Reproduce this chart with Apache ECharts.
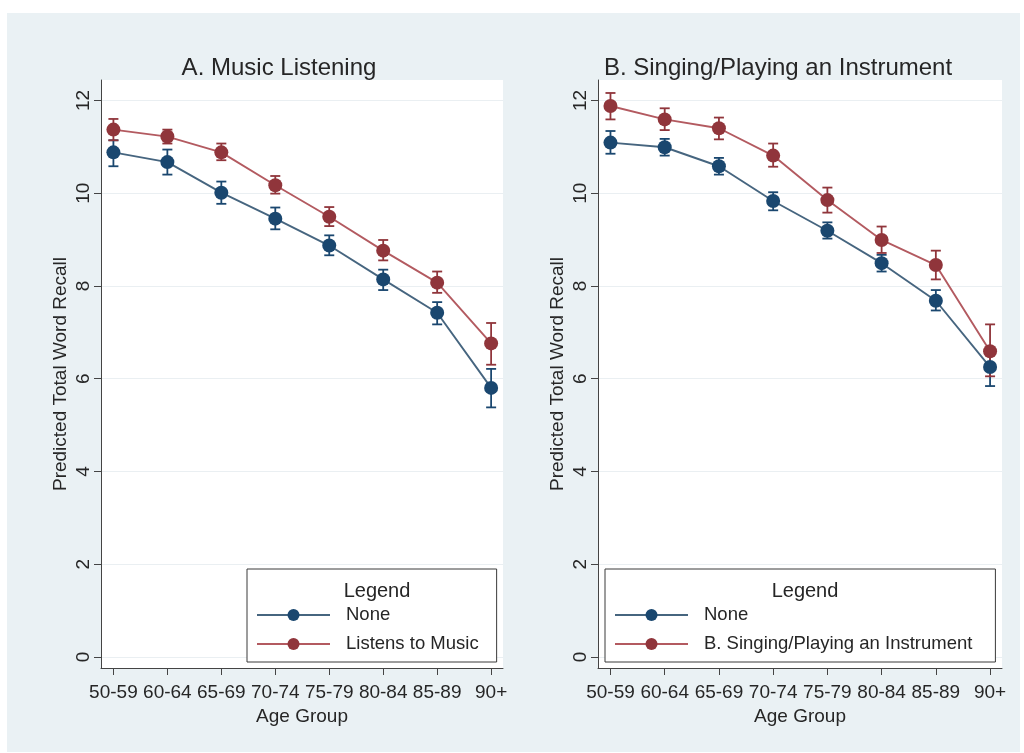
<!DOCTYPE html>
<html>
<head>
<meta charset="utf-8">
<script src="https://cdn.jsdelivr.net/npm/echarts@6/dist/echarts.min.js"></script>
<style>
html,body{margin:0;padding:0;background:#ffffff;}
#bg{position:absolute;left:7px;top:13px;width:1013px;height:739px;background:#eaf1f4;}
#chart{position:absolute;left:0;top:0;width:1024px;height:753px;}
</style>
</head>
<body>
<div id="bg"></div>
<div id="chart"></div>
<script>
// ---- data ----
const ageGroups = ['50-59','60-64','65-69','70-74','75-79','80-84','85-89','90+'];
const yTicks = [0, 2, 4, 6, 8, 10, 12];
const xTicks = [0, 1, 2, 3, 4, 5, 6, 7];

// Panel A: Music Listening
const aNone    = [10.88, 10.67, 10.01, 9.45, 8.87, 8.14, 7.42, 5.80];
const aNoneLo  = [10.58, 10.40, 9.77, 9.22, 8.66, 7.91, 7.17, 5.38];
const aNoneHi  = [11.14, 10.94, 10.25, 9.69, 9.09, 8.35, 7.65, 6.21];
const aListen   = [11.37, 11.22, 10.88, 10.17, 9.49, 8.76, 8.07, 6.76];
const aListenLo = [11.14, 11.07, 10.71, 9.99, 9.29, 8.55, 7.85, 6.30];
const aListenHi = [11.60, 11.37, 11.07, 10.37, 9.70, 8.99, 8.31, 7.20];

// Panel B: Singing/Playing an Instrument
const bNone    = [11.09, 10.99, 10.58, 9.83, 9.19, 8.49, 7.68, 6.25];
const bNoneLo  = [10.85, 10.81, 10.40, 9.63, 9.02, 8.31, 7.47, 5.84];
const bNoneHi  = [11.34, 11.17, 10.76, 10.02, 9.37, 8.67, 7.91, 6.64];
const bSing    = [11.88, 11.59, 11.40, 10.81, 9.85, 8.99, 8.45, 6.59];
const bSingLo  = [11.59, 11.36, 11.16, 10.57, 9.58, 8.71, 8.14, 6.05];
const bSingHi  = [12.16, 11.83, 11.63, 11.07, 10.12, 9.28, 8.76, 7.17];

const seriesNames = ['None', 'Listens to Music', 'B. Singing/Playing an Instrument'];
const panelTitles = ['A. Music Listening', 'B. Singing/Playing an Instrument'];

// ---- styles ----
const FONT = "'Liberation Sans', Arial, sans-serif";
const NAVY = '#1a476f', NAVY_LINE = '#46657f';
const MAROON = '#90353b', MAROON_LINE = '#b35a60';
const TXT = '#262626';

function pts(vals){ return vals.map((v,i)=>[i, v]); }
function ci(lo, hi){ return lo.map((v,i)=>[i, v, hi[i]]); }

function errRender(color){
  return function(params, api){
    const x = api.value(0);
    const pLo = api.coord([x, api.value(1)]);
    const pHi = api.coord([x, api.value(2)]);
    const hw = 5;
    const st = {stroke: color, lineWidth: 1.8};
    return {type:'group', children:[
      {type:'line', shape:{x1:pHi[0], y1:pHi[1], x2:pLo[0], y2:pLo[1]}, style:st},
      {type:'line', shape:{x1:pHi[0]-hw, y1:pHi[1], x2:pHi[0]+hw, y2:pHi[1]}, style:st},
      {type:'line', shape:{x1:pLo[0]-hw, y1:pLo[1], x2:pLo[0]+hw, y2:pLo[1]}, style:st}
    ]};
  };
}

const grids = [
  {left:101, top:80, width:402, height:588, show:true, backgroundColor:'#ffffff', borderWidth:0},
  {left:598, top:80, width:404, height:588, show:true, backgroundColor:'#ffffff', borderWidth:0}
];

function xAxis(gi){
  return {
    type:'value', gridIndex:gi, min:-0.23, max:7.22,
    name:'Age Group', nameLocation:'middle', nameGap:35,
    nameTextStyle:{fontFamily:FONT, fontSize:19, color:TXT},
    axisLine:{show:true, onZero:false, lineStyle:{color:'#444', width:1}},
    axisTick:{show:true, length:7, customValues:xTicks, lineStyle:{color:'#444'}},
    axisLabel:{customValues:xTicks, margin:15, fontFamily:FONT, fontSize:19, color:TXT,
      formatter:(v)=>ageGroups[Math.round(v)]},
    splitLine:{show:false}
  };
}
function yAxis(gi){
  return {
    type:'value', gridIndex:gi, min:-0.24, max:12.44,
    name:'Predicted Total Word Recall', nameLocation:'middle', nameGap:31,
    nameTextStyle:{fontFamily:FONT, fontSize:19, color:TXT},
    axisLine:{show:true, onZero:false, lineStyle:{color:'#444', width:1}},
    axisTick:{show:true, length:7, customValues:yTicks, lineStyle:{color:'#444'}},
    axisLabel:{customValues:yTicks, rotate:90, margin:8, fontFamily:FONT, fontSize:19, color:TXT},
    splitLine:{show:true, lineStyle:{color:'#eaeff2', width:1}}
  };
}

function lineSeries(name, gi, vals, mColor, lColor){
  return {
    type:'line', name:name, xAxisIndex:gi, yAxisIndex:gi, data:pts(vals),
    symbol:'circle', symbolSize:14, z:3,
    itemStyle:{color:mColor},
    lineStyle:{color:lColor, width:1.9},
    emphasis:{disabled:true}, animation:false
  };
}
function errSeries(name, gi, lo, hi, color){
  return {
    type:'custom', name:name, xAxisIndex:gi, yAxisIndex:gi, data:ci(lo, hi),
    renderItem:errRender(color), encode:{x:0, y:[1,2]}, z:2, animation:false
  };
}

function legend(left, names, padRight){
  return {
    orient:'vertical', left:left, top:569,
    data:names, itemWidth:73, itemHeight:15, itemGap:9,
    padding:[36, padRight, 8, 9],
    backgroundColor:'#ffffff', borderColor:'#3a3a3a', borderWidth:1, borderRadius:0,
    selectedMode:false,
    textStyle:{fontFamily:FONT, fontSize:18.5, color:TXT, lineHeight:20, padding:[0,0,0,11]}
  };
}

const chart = echarts.init(document.getElementById('chart'), null, {renderer:'canvas'});
chart.setOption({
  backgroundColor:'transparent',
  animation:false,
  title:[
    {text:panelTitles[0], left:274, top:51, textAlign:'center', z:10,
     textStyle:{fontFamily:FONT, fontSize:24, fontWeight:'normal', color:TXT}},
    {text:panelTitles[1], left:773, top:51, textAlign:'center', z:10,
     textStyle:{fontFamily:FONT, fontSize:24, fontWeight:'normal', color:TXT}},
    {text:'Legend', left:372, top:576, textAlign:'center', z:10,
     textStyle:{fontFamily:FONT, fontSize:20, fontWeight:'normal', color:TXT}},
    {text:'Legend', left:800, top:576, textAlign:'center', z:10,
     textStyle:{fontFamily:FONT, fontSize:20, fontWeight:'normal', color:TXT}}
  ],
  legend:[
    legend(247, [seriesNames[0], seriesNames[1]], 18),
    legend(605, [seriesNames[0], seriesNames[2]], 23)
  ],
  grid:grids,
  xAxis:[xAxis(0), xAxis(1)],
  yAxis:[yAxis(0), yAxis(1)],
  series:[
    lineSeries(seriesNames[0], 0, aNone, NAVY, NAVY_LINE),
    lineSeries(seriesNames[1], 0, aListen, MAROON, MAROON_LINE),
    lineSeries(seriesNames[0], 1, bNone, NAVY, NAVY_LINE),
    lineSeries(seriesNames[2], 1, bSing, MAROON, MAROON_LINE),
    errSeries(seriesNames[0], 0, aNoneLo, aNoneHi, NAVY),
    errSeries(seriesNames[1], 0, aListenLo, aListenHi, MAROON),
    errSeries(seriesNames[0], 1, bNoneLo, bNoneHi, NAVY),
    errSeries(seriesNames[2], 1, bSingLo, bSingHi, MAROON)
  ]
});
</script>
</body>
</html>
